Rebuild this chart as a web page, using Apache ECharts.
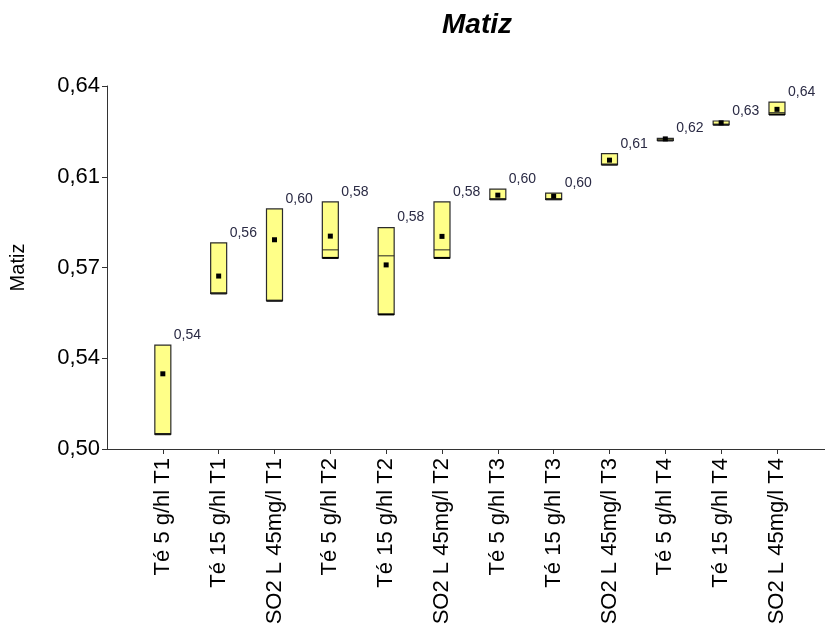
<!DOCTYPE html>
<html>
<head>
<meta charset="utf-8">
<script src="https://cdn.jsdelivr.net/npm/echarts@6/dist/echarts.min.js"></script>
<style>
  html, body { margin: 0; padding: 0; background: #fff; }
  #chart { width: 825px; height: 630px; }
</style>
</head>
<body>
<div id="chart"></div>
<script>
// categorias (tratamientos)
const categories = [
  "Té 5 g/hl T1", "Té 15 g/hl T1", "SO2 L 45mg/l T1",
  "Té 5 g/hl T2", "Té 15 g/hl T2", "SO2 L 45mg/l T2",
  "Té 5 g/hl T3", "Té 15 g/hl T3", "SO2 L 45mg/l T3",
  "Té 5 g/hl T4", "Té 15 g/hl T4", "SO2 L 45mg/l T4"
];
// min / max / mediana / media
const minValues = [0.5057, 0.5600, 0.5572, 0.5737, 0.5519, 0.5737, 0.5963, 0.5963, 0.6097, 0.6190, 0.6251, 0.6290];
const maxValues = [0.5401, 0.5795, 0.5926, 0.5953, 0.5854, 0.5953, 0.6002, 0.5987, 0.6139, 0.6198, 0.6265, 0.6338];
const medianValues = [0.5057, 0.5600, 0.5572, 0.5768, 0.5745, 0.5768, 0.5963, 0.5963, 0.6097, 0.6190, 0.6251, 0.6297];
const meanValues = [0.5290, 0.5667, 0.5807, 0.5821, 0.5710, 0.5820, 0.5979, 0.5975, 0.6114, 0.6196, 0.6258, 0.6310];
const labelValues = [0.54, 0.56, 0.60, 0.58, 0.58, 0.58, 0.60, 0.60, 0.61, 0.62, 0.63, 0.64];
// eje y
const yTickValues = [0.5, 0.535, 0.57, 0.605, 0.64];
const yTickLabels = ["0,50", "0,54", "0,57", "0,61", "0,64"];

const xPositions = categories.map((c, i) => i + 1);
const boxData = categories.map((c, i) => [
  i + 1, minValues[i], maxValues[i], medianValues[i], meanValues[i], labelValues[i]
]);

const BOX_W = 16;
const FONT = "Liberation Sans, Arial, sans-serif";

function renderBox(params, api) {
  const x = api.value(0);
  const pMin = api.coord([x, api.value(1)]);
  const pMax = api.coord([x, api.value(2)]);
  const pMed = api.coord([x, api.value(3)]);
  const pMean = api.coord([x, api.value(4)]);
  const cx = pMin[0];
  const left = cx - BOX_W / 2;
  const label = api.value(5).toFixed(2).replace(".", ",");
  return {
    type: "group",
    children: [
      {
        type: "rect",
        shape: { x: left, y: pMax[1], width: BOX_W, height: pMin[1] - pMax[1] },
        style: { fill: "#ffff88", stroke: "#2b2b2b", lineWidth: 1.2 }
      },
      {
        // borde inferior mas grueso
        type: "line",
        shape: { x1: left, y1: pMin[1], x2: left + BOX_W, y2: pMin[1] },
        style: { stroke: "#000", lineWidth: 2 }
      },
      {
        type: "line",
        shape: { x1: left, y1: pMed[1], x2: left + BOX_W, y2: pMed[1] },
        style: { stroke: "#222", lineWidth: 1 }
      },
      {
        type: "rect",
        shape: { x: cx - 2.5, y: pMean[1] - 2.5, width: 5, height: 5 },
        style: { fill: "#000" }
      },
      {
        type: "text",
        style: {
          text: label,
          x: left + BOX_W + 3,
          y: pMax[1] - 10,
          align: "left",
          verticalAlign: "middle",
          font: "14px " + FONT,
          fill: "#2a2a44"
        }
      }
    ]
  };
}

const chart = echarts.init(document.getElementById("chart"));
const option = {
  backgroundColor: "#fff",
  animation: false,
  title: {
    text: "Matiz",
    left: 472,
    top: 6,
    textAlign: "center",
    textStyle: {
      fontFamily: FONT,
      fontSize: 28,
      fontWeight: "bold",
      fontStyle: "italic",
      color: "#000"
    }
  },
  grid: {
    left: 107,
    right: 0,
    top: 86,
    bottom: 181,
    outerBoundsMode: "none"
  },
  xAxis: {
    type: "value",
    min: 0,
    max: 12.86,
    axisLine: { show: true, onZero: false, lineStyle: { color: "#333", width: 1 } },
    axisTick: { show: true, customValues: xPositions, length: 5, lineStyle: { color: "#333" } },
    axisLabel: {
      customValues: xPositions,
      rotate: 90,
      margin: 9,
      color: "#000",
      fontFamily: FONT,
      fontSize: 22,
      formatter: (v) => categories[Math.round(v) - 1] || ""
    },
    splitLine: { show: false }
  },
  yAxis: {
    type: "value",
    min: 0.5,
    max: 0.64,
    name: "Matiz",
    nameLocation: "middle",
    nameRotate: 90,
    nameGap: 79,
    nameTextStyle: { fontFamily: FONT, fontSize: 20, color: "#000" },
    axisLine: { show: true, lineStyle: { color: "#333", width: 1 } },
    axisTick: { show: true, customValues: yTickValues, length: 5, lineStyle: { color: "#333" } },
    axisLabel: {
      customValues: yTickValues,
      margin: 7,
      color: "#000",
      fontFamily: FONT,
      fontSize: 22,
      formatter: (v) => {
        let best = 0;
        yTickValues.forEach((t, i) => {
          if (Math.abs(t - v) < Math.abs(yTickValues[best] - v)) best = i;
        });
        return yTickLabels[best];
      }
    },
    splitLine: { show: false }
  },
  series: [
    {
      type: "custom",
      renderItem: renderBox,
      data: boxData,
      encode: { x: 0, y: [1, 2] },
      clip: false
    }
  ]
};
chart.setOption(option);
</script>
</body>
</html>
